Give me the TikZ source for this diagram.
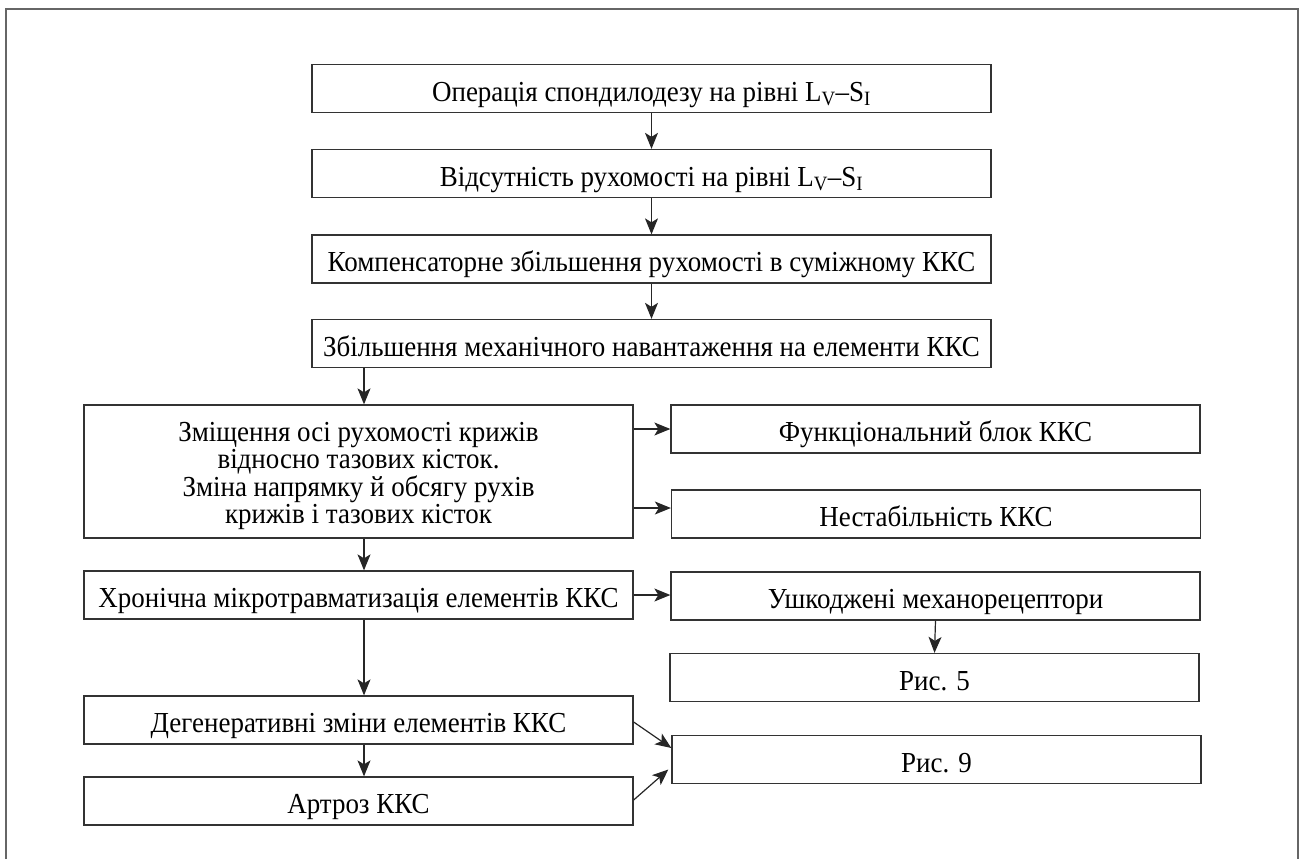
\documentclass[tikz,border=0pt]{standalone}
\usepackage{fontspec}
\setmainfont[FakeStretch=0.93]{Liberation Serif}
\usetikzlibrary{arrows.meta,calc}
\begin{document}
\begin{tikzpicture}[x=1pt,y=-1pt,
  base/.style={draw=black!80, line width=1.3pt, inner sep=0pt,
    font=\fontsize{29}{27.5}\selectfont, align=center},
  box/.style={base, minimum height=48pt, text height=26pt, text depth=1pt},
  topbox/.style={box, minimum width=679pt},
  lbox/.style={box, minimum width=549pt},
  rbox/.style={box, minimum width=529pt},
  bigbox/.style={base, minimum width=549pt, minimum height=133pt},
  txt/.style={inner sep=0pt, font=\fontsize{29}{27.5}\selectfont, align=center},
  arr/.style={line width=1.2pt, draw=black!85, -{Stealth[length=16pt,width=13pt,inset=4pt]}},
  frame/.style={line width=2pt, draw=black!60}]
\useasboundingbox (0,0) rectangle (1300,859);
\draw[frame] (6,859) -- (6,9) -- (1298,9) -- (1298,859);

\node[topbox] (b1) at (651.5,88.5) {Операція спондилодезу на рівні L\textsubscript{V}–S\textsubscript{I}};
\node[topbox] (b2) at (651.5,173.5) {Відсутність рухомості на рівні L\textsubscript{V}–S\textsubscript{I}};
\node[topbox] (b3) at (651.5,259) {Компенсаторне збільшення рухомості в суміжному ККС};
\node[topbox] (b4) at (651.5,343.5) {Збільшення механічного навантаження на елементи ККС};
\node[bigbox] (b5) at (358.5,471.5) {};
\node[txt] (b5t) at (358.5,476) {Зміщення осі рухомості крижів\\відносно тазових кісток.\\Зміна напрямку й обсягу рухів\\крижів і тазових кісток};
\node[rbox] (f1) at (935.5,429) {Функціональний блок ККС};
\node[rbox] (f2) at (936,514) {Нестабільність ККС};
\node[lbox] (b6) at (358.5,595) {Хронічна мікротравматизація елементів ККС};
\node[rbox] (u) at (935.5,596) {Ушкоджені механорецептори};
\node[rbox] (r5) at (934.5,677.5) {Рис. 5};
\node[lbox] (b7) at (358.5,720) {Дегенеративні зміни елементів ККС};
\node[rbox] (r9) at (936.5,759.5) {Рис. 9};
\node[lbox] (b8) at (358.5,801) {Артроз ККС};

\coordinate (ax) at (364,0);

\draw[arr] (b1.south) -- (b2.north);
\draw[arr] (b2.south) -- (b3.north);
\draw[arr] (b3.south) -- (b4.north);
\draw[arr] (b4.south -| ax) -- (b5.north -| ax);
\draw[arr] (b5.east |- f1.west) -- (f1.west);
\draw[arr] ([yshift=6pt]f2.west -| b5.east) -- ([yshift=6pt]f2.west);
\draw[arr] (b5.south -| ax) -- (b6.north -| ax);
\draw[arr] (b6.east) -- (b6.east -| u.west);
\draw[arr] (u.south) -- (r5.north);
\draw[arr] (b6.south -| ax) -- (b7.north -| ax);
\draw[arr] (b7.south -| ax) -- (b8.north -| ax);
\draw[arr] ([yshift=-2pt]b7.east) -- ([yshift=11.5pt]r9.west);
\draw[arr] ([yshift=1pt]b8.east) -- ([xshift=-3pt,yshift=-10pt]r9.west);
\end{tikzpicture}
\end{document}
